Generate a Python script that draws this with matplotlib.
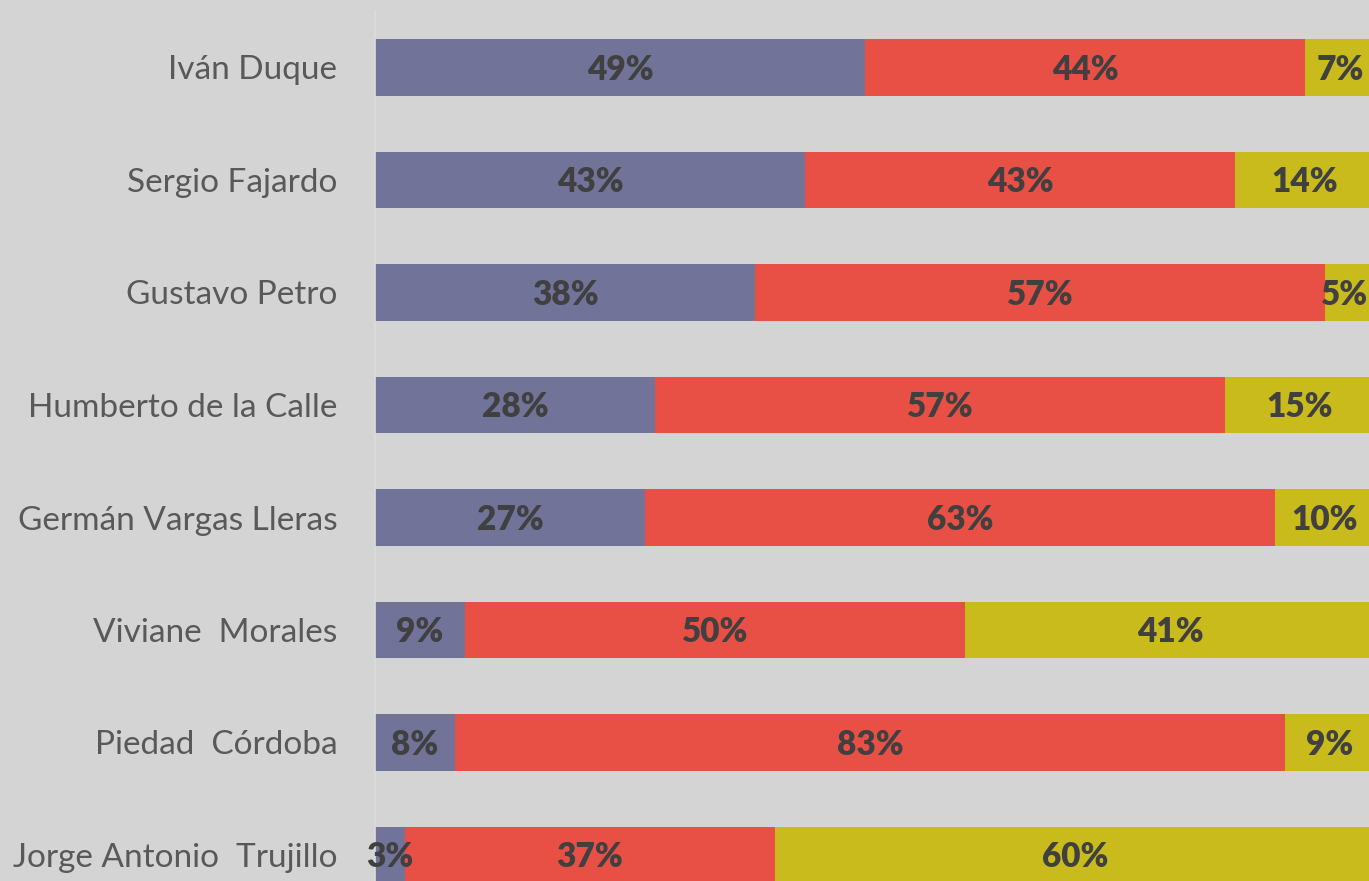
import matplotlib.pyplot as plt
import numpy as np

candidatos = ['Iván Duque', 'Sergio Fajardo', 'Gustavo Petro', 'Humberto de la Calle',
              'Germán Vargas Lleras', 'Viviane  Morales', 'Piedad  Córdoba',
              'Jorge Antonio  Trujillo']
favorable = [49, 43, 38, 28, 27, 9, 8, 3]
desfavorable = [44, 43, 57, 57, 63, 50, 83, 37]
no_sabe = [7, 14, 5, 15, 10, 41, 9, 60]

colores = ['#717398', '#e84f45', '#c9bb1c']
fondo = '#d4d4d4'

fig = plt.figure(figsize=(13.69, 8.81), dpi=100, facecolor=fondo)
# eje un poco mas grande que la figura (el original esta recortado)
ax = fig.add_axes([375 / 1369, -30.25 / 881, 1000 / 1369, 900 / 881])
ax.set_facecolor(fondo)

y = np.arange(len(candidatos))
izq = np.zeros(len(candidatos))
for serie, color in zip([favorable, desfavorable, no_sabe], colores):
    vals = np.array(serie)
    ax.barh(y, vals, left=izq, height=0.5, color=color, edgecolor='none')
    for yi, l, v in zip(y, izq, vals):
        xt = min(l + v / 2, 97.0)  # que no se salga por la derecha
        ax.text(xt, yi + 0.02, f'{v}%', ha='center', va='center',
                fontsize=24, fontweight='heavy', color='#404040', family='Lato')
    izq += vals

ax.set_xlim(0, 100)
ax.set_ylim(len(candidatos) - 0.5, -0.5)
ax.set_yticks(y)
ax.set_yticklabels(candidatos, fontsize=24, color='#595959', family='Lato')
ax.tick_params(axis='y', length=0, pad=27)
ax.set_xticks([])
for s in ['top', 'right', 'bottom']:
    ax.spines[s].set_visible(False)
ax.spines['left'].set_color('#dcdcdc')
ax.spines['left'].set_linewidth(1.2)

fig.savefig('out.png', dpi=100, facecolor=fondo)
